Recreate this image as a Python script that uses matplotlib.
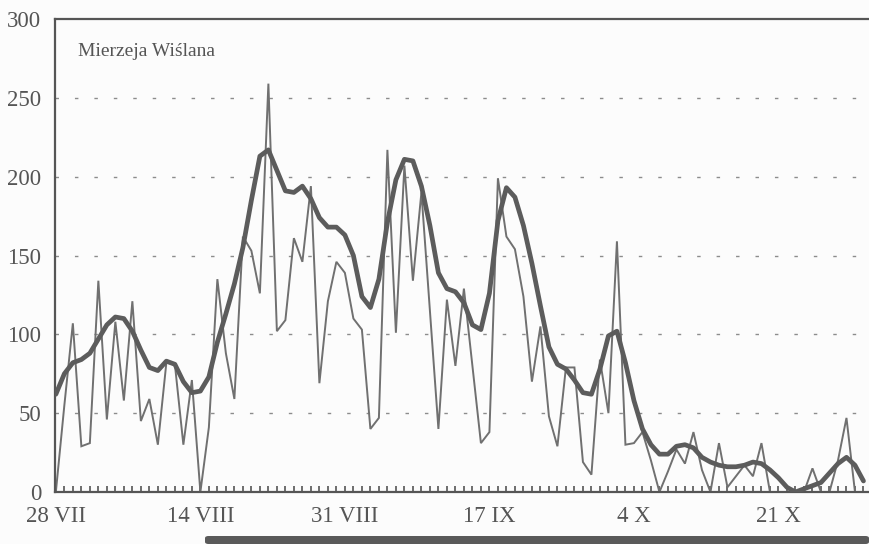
import matplotlib
matplotlib.use("Agg")
import matplotlib.pyplot as plt
from matplotlib.patches import FancyBboxPatch
from matplotlib.ticker import MultipleLocator, FixedLocator
import numpy as np

# day index 0 = 28 VII, 95 = 31 X
days = list(range(96))

daily_counts = [
    0, 55, 107, 29, 31, 134, 46, 108, 58, 121,
    45, 59, 30, 82, 81, 30, 71, 0, 41, 135,
    88, 59, 162, 153, 126, 259, 102, 109, 161, 146,
    194, 69, 121, 146, 139, 110, 103, 40, 47, 217,
    101, 207, 134, 190, 115, 40, 122, 80, 129, 80,
    31, 38, 199, 162, 154, 124, 70, 105, 48, 29,
    79, 79, 19, 11, 84, 50, 159, 30, 31, 38,
    20, 0, 13, 27, 18, 38, 14, 0, 31, 3,
    10, 17, 10, 31, 0, 0, 0, 0, 0, 15,
    0, 0, 20, 47, 0, 0,
]

smoothed = [
    62, 75, 82, 84, 88, 97, 106, 111, 110, 102,
    90, 79, 77, 83, 81, 70, 63, 64, 73, 95,
    113, 132, 155, 185, 213, 217, 204, 191, 190, 194,
    186, 174, 168, 168, 163, 150, 124, 117, 135, 171,
    198, 211, 210, 194, 169, 139, 129, 127, 120, 106,
    103, 126, 172, 193, 187, 169, 145, 118, 92, 81,
    78, 71, 63, 62, 78, 99, 102, 82, 58, 40,
    30, 24, 24, 29, 30, 28, 22, 19, 17, 16,
    16, 17, 19, 18, 14, 9, 3, 0, 2, 4,
    6, 12, 18, 22, 17, 7,
]

tick_days = [0, 17, 34, 51, 68, 85]
tick_labels = ["28 VII", "14 VIII", "31 VIII", "17 IX", "4 X", "21 X"]
y_ticks = [0, 50, 100, 150, 200, 250, 300]
title_text = "Mierzeja Wiślana"

W, H = 869, 544
fig = plt.figure(figsize=(W / 100, H / 100), dpi=100)
fig.patch.set_facecolor("#fcfcfc")

left, right, top, bottom = 55, 869, 19, 492
ax = fig.add_axes([left / W, 1 - bottom / H, (right - left) / W, (bottom - top) / H])
ax.set_facecolor("#fcfcfc")

txt_color = "#555555"
font = ["Liberation Serif", "DejaVu Serif"]

for y in [50, 100, 150, 200, 250]:
    ax.axhline(y, color="#8c8c8c", lw=1.0, dashes=(2.5, 11.5), zorder=1)

ax.plot(days, daily_counts, color="#707070", lw=1.4, solid_joinstyle="miter", zorder=2)
ax.plot(days, smoothed, color="#5c5c5c", lw=3.4, solid_joinstyle="round",
        solid_capstyle="round", zorder=3)

ax.set_xlim(-0.1, 95.65)
ax.set_ylim(0, 300)

ax.xaxis.set_major_locator(FixedLocator(tick_days))
ax.set_xticklabels(tick_labels, fontfamily=font, fontsize=16.5, color=txt_color)
ax.xaxis.set_minor_locator(MultipleLocator(1))
ax.tick_params(axis="x", which="both", direction="in", length=4, width=1.2,
               color="#555555", pad=10)

ax.set_yticks(y_ticks)
ax.set_yticklabels([str(v) for v in y_ticks], fontfamily=font, fontsize=16.5, color=txt_color)
ax.tick_params(axis="y", which="both", length=0, pad=10)

for s in ["left", "top", "bottom"]:
    ax.spines[s].set_color("#555555")
    ax.spines[s].set_linewidth(1.6)
ax.spines["right"].set_visible(False)

ax.text(78, 52, title_text, transform=None, fontfamily=font, fontsize=14,
        color="#555555", va="center", ha="left")
# place title in pixel coords via figure transform
ax.texts[-1].set_transform(fig.transFigure)
ax.texts[-1].set_position((78 / W, 1 - 52 / H))

bar = FancyBboxPatch((205 / W, 0.0), (W - 205) / W, 8 / H,
                     boxstyle="round,pad=0,rounding_size=0.004",
                     transform=fig.transFigure, facecolor="#5a5a5a",
                     edgecolor="none")
fig.add_artist(bar)

fig.savefig("out.png", dpi=100, facecolor=fig.get_facecolor())
